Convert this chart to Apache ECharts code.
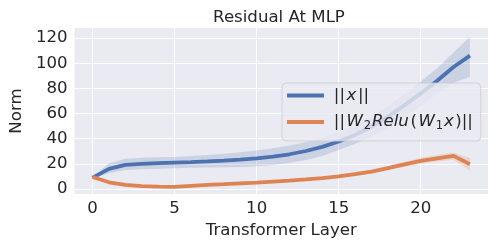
<!DOCTYPE html>
<html>
<head>
<meta charset="utf-8">
<script src="https://cdn.jsdelivr.net/npm/echarts@6/dist/echarts.min.js"></script>
<style>
html,body{margin:0;padding:0;background:#ffffff;}
#chart{width:498px;height:249px;}
</style>
</head>
<body>
<div id="chart"></div>
<script>
// ---- data ----
const layers = [0,1,2,3,4,5,6,7,8,9,10,11,12,13,14,15,16,17,18,19,20,21,22,23];

const xNormMean = [9.0,16.0,19.2,20.0,20.5,21.0,21.4,21.9,22.5,23.3,24.3,25.7,27.6,30.2,33.5,37.7,43.0,49.5,57.5,66.5,76.0,86.0,97.0,106.0];
const xNormLow  = [8.6,12.5,15.0,15.6,16.0,16.5,16.8,17.0,17.2,17.5,18.0,19.0,20.6,23.0,26.2,31.0,36.0,41.5,48.5,57.0,66.0,75.5,84.5,89.0];
const xNormHigh = [9.4,20.4,24.0,24.8,25.2,25.5,26.2,27.0,28.0,29.2,30.6,32.3,34.5,37.3,40.8,45.0,50.5,57.5,66.0,75.5,85.5,96.0,108.5,121.0];

const mlpMean = [9.5,5.3,3.2,2.2,1.8,1.7,2.5,3.3,3.8,4.4,5.0,5.8,6.6,7.6,8.7,10.0,11.8,13.8,16.5,19.5,22.3,24.4,26.3,19.7];
const mlpLow  = [9.2,4.8,2.8,1.8,1.4,1.3,2.0,2.8,3.3,3.8,4.4,5.1,5.9,6.8,7.8,9.0,10.6,12.4,15.0,17.6,20.0,21.8,23.3,14.2];
const mlpHigh = [9.8,5.8,3.6,2.6,2.2,2.1,3.0,3.8,4.3,5.0,5.6,6.5,7.3,8.4,9.6,11.0,13.0,15.2,18.0,21.4,24.6,27.0,29.0,24.6];

const yTickLabels = [0,20,40,60,80,100,120];
const xTickLabels = [0,5,10,15,20];

const nameX = '||x||';
const nameMlp = '||W₂Relu(W₁x)||';
const titleText = 'Residual At MLP';
const xAxisTitle = 'Transformer Layer';
const yAxisTitle = 'Norm';

// ---- styling ----
const BLUE = '#4C72B0';
const ORANGE = '#DD8452';
const TEXT = '#262626';
const FONT = 'DejaVu Sans';
const FS = 16.6;

function pairs(vals) { return layers.map((x, i) => [x, vals[i]]); }
function bandRows(lo, hi) { return layers.map((x, i) => [x, lo[i], hi[i]]); }

// grid line colour cycles (only lines on the labelled ticks are visible)
const yColors = ['rgba(0,0,0,0)', '#ffffff', 'rgba(0,0,0,0)', 'rgba(0,0,0,0)', 'rgba(0,0,0,0)'];
const xColors = [];
for (let i = 0; i < 50; i++) xColors.push(i === 11 ? '#ffffff' : 'rgba(0,0,0,0)');

function isTick(v, list) {
  return list.some(t => Math.abs(v - t) < 1e-6);
}

function bandSeries(name, lo, hi, color) {
  const rows = bandRows(lo, hi);
  return {
    name: name, type: 'custom', silent: true,
    data: rows,
    encode: {x: 0, y: [1, 2]},
    renderItem: function (params, api) {
      if (params.dataIndex !== 0) return null;
      const pts = [];
      for (let i = 0; i < rows.length; i++) pts.push(api.coord([rows[i][0], rows[i][2]]));
      for (let i = rows.length - 1; i >= 0; i--) pts.push(api.coord([rows[i][0], rows[i][1]]));
      return {
        type: 'polygon',
        shape: {points: pts},
        style: {fill: color, opacity: 0.2, stroke: null}
      };
    }
  };
}

const chart = echarts.init(document.getElementById('chart'), null, {renderer: 'canvas'});

chart.setOption({
  animation: false,
  backgroundColor: '#ffffff',
  textStyle: {fontFamily: FONT},
  title: {
    text: titleText,
    left: 279, top: 9, padding: 0, textAlign: 'center',
    textStyle: {fontFamily: FONT, fontSize: FS, fontWeight: 'normal', color: TEXT}
  },
  grid: {
    left: 70, right: 10, top: 28, bottom: 55,
    show: true, backgroundColor: '#EAEAF2', borderWidth: 0
  },
  legend: {
    orient: 'vertical',
    left: 282, top: 83,
    padding: [4, 7, 9, 5],
    itemGap: 9.5,
    itemWidth: 37, itemHeight: 4,
    backgroundColor: 'rgba(234,234,242,0.8)',
    borderColor: 'rgba(204,204,204,0.8)',
    borderWidth: 1, borderRadius: 4,
    data: [{name: nameX, icon: 'rect'}, {name: nameMlp, icon: 'rect'}],
    formatter: function (name) {
      if (name === nameX) return '{n|||}{i|x}{n|||}';
      return '{n|||}{i|W}{s|2}{i|Relu}{n|(}{i|W}{s|1}{i|x}{n|)||}';
    },
    textStyle: {
      color: TEXT, fontFamily: FONT, fontSize: FS, padding: [0, 0, 0, 4],
      rich: {
        n: {fontFamily: FONT, fontSize: FS, color: TEXT, lineHeight: 20, padding: [0, 0.8, 0, 0.8]},
        i: {fontFamily: FONT, fontSize: FS, fontStyle: 'italic', color: TEXT, lineHeight: 20, padding: [0, 0.8, 0, 0.8]},
        s: {fontFamily: FONT, fontSize: 11.6, color: TEXT, lineHeight: 11, verticalAlign: 'bottom'}
      }
    }
  },
  xAxis: {
    type: 'value',
    min: -1.1, max: 24.1, interval: 0.1,
    name: xAxisTitle, nameLocation: 'middle', nameGap: 25,
    nameTextStyle: {fontFamily: FONT, fontSize: FS, color: TEXT},
    axisLine: {show: false}, axisTick: {show: false},
    axisLabel: {
      margin: 6, fontFamily: FONT, fontSize: FS, color: TEXT,
      formatter: v => isTick(v, xTickLabels) ? String(Math.round(v)) : ''
    },
    splitLine: {show: true, lineStyle: {color: xColors, width: 1}}
  },
  yAxis: {
    type: 'value',
    min: -4, max: 128, interval: 4,
    name: yAxisTitle, nameLocation: 'middle', nameGap: 45,
    nameTextStyle: {fontFamily: FONT, fontSize: FS, color: TEXT},
    axisLine: {show: false}, axisTick: {show: false},
    axisLabel: {
      margin: 7, fontFamily: FONT, fontSize: FS, color: TEXT,
      formatter: v => isTick(v, yTickLabels) ? String(Math.round(v)) : ''
    },
    splitLine: {show: true, lineStyle: {color: yColors, width: 1}}
  },
  series: [
    bandSeries('xBand', xNormLow, xNormHigh, BLUE),
    {
      name: nameX, type: 'line', data: pairs(xNormMean), symbol: 'none',
      color: BLUE, lineStyle: {color: BLUE, width: 3.8}, emphasis: {disabled: true}
    },
    bandSeries('mBand', mlpLow, mlpHigh, ORANGE),
    {
      name: nameMlp, type: 'line', data: pairs(mlpMean), symbol: 'none',
      color: ORANGE, lineStyle: {color: ORANGE, width: 3.8}, emphasis: {disabled: true}
    }
  ]
});
</script>
</body>
</html>
